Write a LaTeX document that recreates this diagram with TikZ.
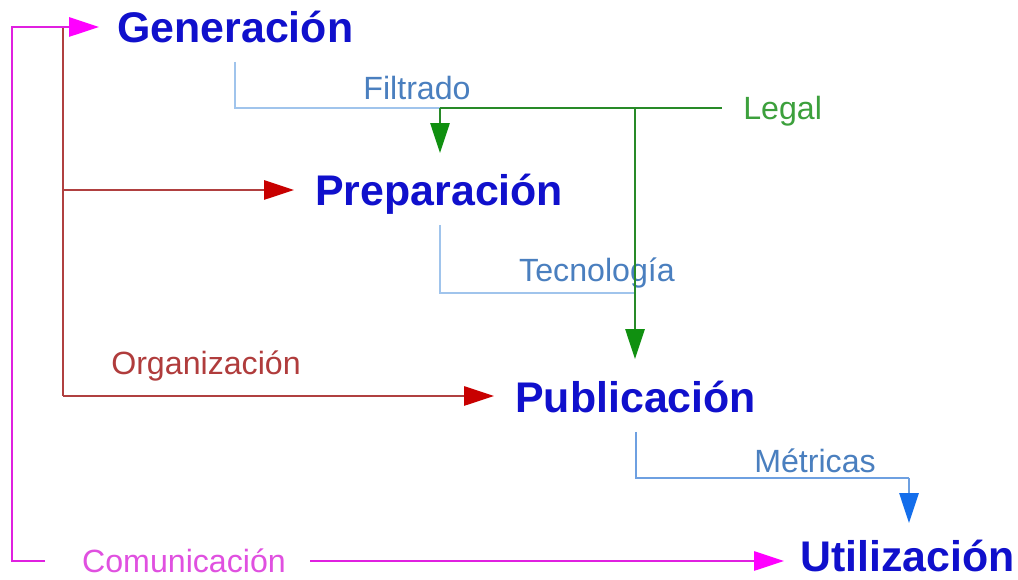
\documentclass[tikz,border=0pt]{standalone}
\usepackage{fontspec}
\setmainfont{Liberation Sans}
\usetikzlibrary{arrows.meta}
\definecolor{nodeblue}{RGB}{16,16,204}
\definecolor{labblue}{RGB}{74,127,191}
\definecolor{lineblue}{RGB}{160,196,236}
\definecolor{metblue}{RGB}{110,160,225}
\definecolor{tipblue}{RGB}{20,110,235}
\definecolor{grline}{RGB}{40,138,40}
\definecolor{grtip}{RGB}{16,144,16}
\definecolor{grtext}{RGB}{60,160,60}
\definecolor{rdline}{RGB}{176,64,64}
\definecolor{rdtip}{RGB}{200,0,0}
\definecolor{rdtext}{RGB}{176,60,60}
\definecolor{mgline}{RGB}{224,32,224}
\definecolor{mgtip}{RGB}{255,0,255}
\definecolor{mgtext}{RGB}{224,80,224}
\tikzset{
  stage/.style={font=\fontsize{24.4}{28}\selectfont\bfseries, text=nodeblue, inner sep=0pt, anchor=base west},
  lab/.style={font=\fontsize{18.3}{22}\selectfont, inner sep=0pt, anchor=base},
  conn/.style={line width=0.85pt},
  tip/.style={-{Triangle[length=17pt,width=11pt,fill=#1,color=#1]}},
}
\begin{document}
\begin{tikzpicture}[x=0.02cm,y=-0.02cm]
\useasboundingbox[fill=white] (0,0) rectangle (1018,580);
% stages
\node[stage] (gen) at (117,43) {Generación};
\node[stage] (pre) at (315,206) {Preparación};
\node[stage] (pub) at (515,413) {Publicación};
\node[stage] (uti) at (800,572) {Utilización};
% labels
\node[lab, text=labblue] (fil) at (417,100) {Filtrado};
\node[lab, text=grtext, anchor=base west] (leg) at (743,120) {Legal};
\node[lab, text=labblue] (tec) at (597,282) {Tecnología};
\node[lab, text=rdtext] (org) at (206,375) {Organización};
\node[lab, text=labblue] (met) at (815,473) {Métricas};
\node[lab, text=mgtext] (com) at (184,573) {Comunicación};
% coordinates
\coordinate (g1) at (235,62);
\coordinate (g2) at (235,108);
\coordinate (j1) at (440,108);
\coordinate (j2) at (635,108);
\coordinate (j3) at (722,108);
\coordinate (pretop) at (440,153);
\coordinate (pubtop) at (635,359);
\coordinate (p1) at (440,225);
\coordinate (p2) at (440,293);
\coordinate (p3) at (635,293);
\coordinate (u1) at (636,432);
\coordinate (u2) at (636,478);
\coordinate (u3) at (909,478);
\coordinate (utitop) at (909,523);
\coordinate (r0) at (63,27);
\coordinate (r1) at (63,190);
\coordinate (r2) at (63,396);
\coordinate (pretip) at (294,190);
\coordinate (pubtip) at (494,396);
\coordinate (m0) at (45,561);
\coordinate (m1) at (12,561);
\coordinate (m2) at (12,27);
\coordinate (gentip) at (99,27);
\coordinate (m3) at (310,561);
\coordinate (utitip) at (784,561);
% blue connectors
\draw[conn, lineblue] (g1) -- (g2) -- (j1);
\draw[conn, lineblue] (p1) -- (p2) -- (p3);
\draw[conn, metblue] (u1) -- (u2) -- (u3);
\draw[conn, metblue, tip=tipblue] (u3) -- (utitop);
% green
\draw[conn, grline] (j1) -- (j3);
\draw[conn, grline, tip=grtip] (j1) -- (pretop);
\draw[conn, grline, tip=grtip] (j2) -- (pubtop);
% dark red
\draw[conn, rdline] (r0) -- (r2);
\draw[conn, rdline, tip=rdtip] (r1) -- (pretip);
\draw[conn, rdline, tip=rdtip] (r2) -- (pubtip);
% magenta
\draw[conn, mgline, tip=mgtip] (m0) -- (m1) -- (m2) -- (gentip);
\draw[conn, mgline, tip=mgtip] (m3) -- (utitip);
\end{tikzpicture}
\end{document}
